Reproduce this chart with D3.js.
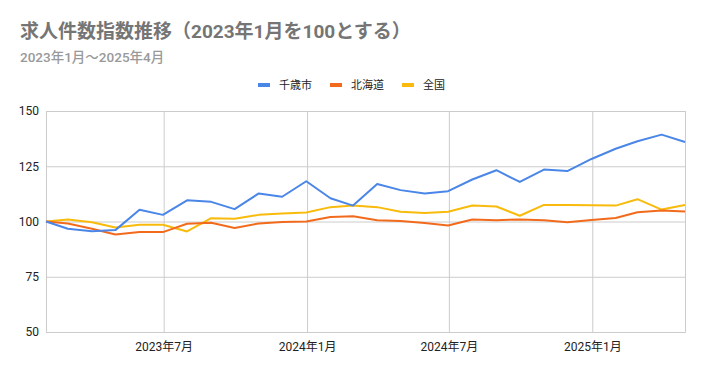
<!DOCTYPE html>
<html>
<head>
<meta charset="utf-8">
<script src="https://cdn.jsdelivr.net/npm/d3@7"></script>
<style>
  body { margin: 0; background: #fff; }
  text { font-family: Roboto, "Noto Sans CJK JP", sans-serif; }
</style>
</head>
<body>
<div id="vis"></div>
<script>
// data (index, 2023年1月 = 100)
var months = ["2023-01","2023-02","2023-03","2023-04","2023-05","2023-06","2023-07","2023-08","2023-09","2023-10","2023-11","2023-12",
              "2024-01","2024-02","2024-03","2024-04","2024-05","2024-06","2024-07","2024-08","2024-09","2024-10","2024-11","2024-12",
              "2025-01","2025-02","2025-03","2025-04"];
var chitose = [100, 96.7, 95.6, 96.1, 105.3, 103.0, 109.6, 108.9, 105.6, 112.7, 111.2, 118.2, 110.5, 107.2,
               117.0, 114.2, 112.7, 113.7, 119.0, 123.2, 117.9, 123.5, 122.8, 128.3, 132.9, 136.3, 139.3, 136.0];
var hokkaido = [100, 99.1, 96.7, 94.1, 95.3, 95.2, 99.0, 99.4, 97.1, 99.1, 99.8, 100.0, 102.0, 102.4,
                100.6, 100.2, 99.3, 98.2, 100.9, 100.6, 100.9, 100.6, 99.7, 100.7, 101.6, 104.2, 105.0, 104.5];
var zenkoku = [100, 100.9, 99.7, 97.3, 98.5, 98.5, 95.5, 101.5, 101.2, 103.0, 103.6, 104.1, 106.5, 107.2,
               106.5, 104.4, 103.9, 104.4, 107.2, 106.8, 102.6, 107.5, 107.5, 107.3, 107.2, 110.1, 105.4, 107.5];
var seriesNames = ["千歳市", "北海道", "全国"];
var colors = ["#4a86e8", "#f26b1d", "#f9bb0b"];
var yTicks = [50, 75, 100, 125, 150];
var xTicks = ["2023-07", "2024-01", "2024-07", "2025-01"];

var width = 704, height = 371;
var margin = { top: 111, left: 46, right: 19, bottom: 39 };
var innerW = width - margin.left - margin.right;
var innerH = height - margin.top - margin.bottom;

// each point sits on the last day of its month
var parseMonth = d3.timeParse("%Y-%m");
function monthEnd(m) { return d3.timeDay.offset(d3.timeMonth.offset(parseMonth(m), 1), -1); }
var dates = months.map(monthEnd);

var svg = d3.select("#vis").append("svg")
    .attr("width", width)
    .attr("height", height);

// title
svg.append("text")
    .attr("x", 20).attr("y", 38)
    .style("font-size", "19px")
    .style("font-weight", "bold")
    .style("fill", "#757575")
    .text("求人件数指数推移（2023年1月を100とする）");

svg.append("text")
    .attr("x", 20).attr("y", 62)
    .style("font-size", "13.5px")
    .style("font-weight", "500")
    .style("fill", "#999999")
    .text("2023年1月～2025年4月");

var g = svg.append("g")
    .attr("transform", "translate(" + margin.left + "," + margin.top + ")");

var xscale = d3.scaleTime()
    .domain([dates[0], dates[dates.length - 1]])
    .range([0, innerW]);

var yscale = d3.scaleLinear()
    .domain([50, 150])
    .range([innerH, 0]);

// y grid + labels
var yaxis = d3.axisLeft(yscale)
    .tickValues(yTicks)
    .tickSize(-innerW)
    .tickPadding(7);

g.append("g")
    .attr("class", "y axis")
    .call(yaxis)
    .call(function(s) {
        s.select(".domain").remove();
        s.selectAll(".tick line").attr("stroke", "#cccccc");
        s.selectAll(".tick text")
            .style("font-size", "12px")
            .style("fill", "#222")
            .style("font-family", "Roboto, sans-serif");
    });

// x grid + labels
var fmt = d3.timeFormat("%Y年%-m月");
var xaxis = d3.axisBottom(xscale)
    .tickValues(xTicks.map(parseMonth))
    .tickSize(-innerH)
    .tickPadding(10)
    .tickFormat(fmt);

g.append("g")
    .attr("class", "x axis")
    .attr("transform", "translate(0," + innerH + ")")
    .call(xaxis)
    .call(function(s) {
        s.select(".domain").attr("stroke", "#cccccc");
        s.selectAll(".tick line").attr("stroke", "#cccccc");
        s.selectAll(".tick text")
            .style("font-size", "12px")
            .style("fill", "#222")
            .style("font-family", "Roboto, 'Noto Sans CJK JP', sans-serif");
    });

// lines
var line = d3.line()
    .x(function(d, i) { return xscale(dates[i]); })
    .y(function(d) { return yscale(d); });

var allSeries = [chitose, hokkaido, zenkoku];
// draw 全国 first, then 北海道, then 千歳市 on top
[2, 1, 0].forEach(function(k) {
    g.append("path")
        .datum(allSeries[k])
        .attr("fill", "none")
        .attr("stroke", colors[k])
        .attr("stroke-width", 2)
        .attr("stroke-linejoin", "round")
        .attr("d", line);
});

// legend
var legendX = [258, 330, 402];
var legend = svg.append("g");
seriesNames.forEach(function(name, i) {
    legend.append("rect")
        .attr("x", legendX[i]).attr("y", 83)
        .attr("width", 12).attr("height", 4)
        .attr("fill", colors[i]);
    legend.append("text")
        .attr("x", legendX[i] + 21).attr("y", 89)
        .style("font-size", "11px")
        .style("fill", "#222")
        .style("font-family", "'Noto Sans CJK JP', sans-serif")
        .text(name);
});
</script>
</body>
</html>
